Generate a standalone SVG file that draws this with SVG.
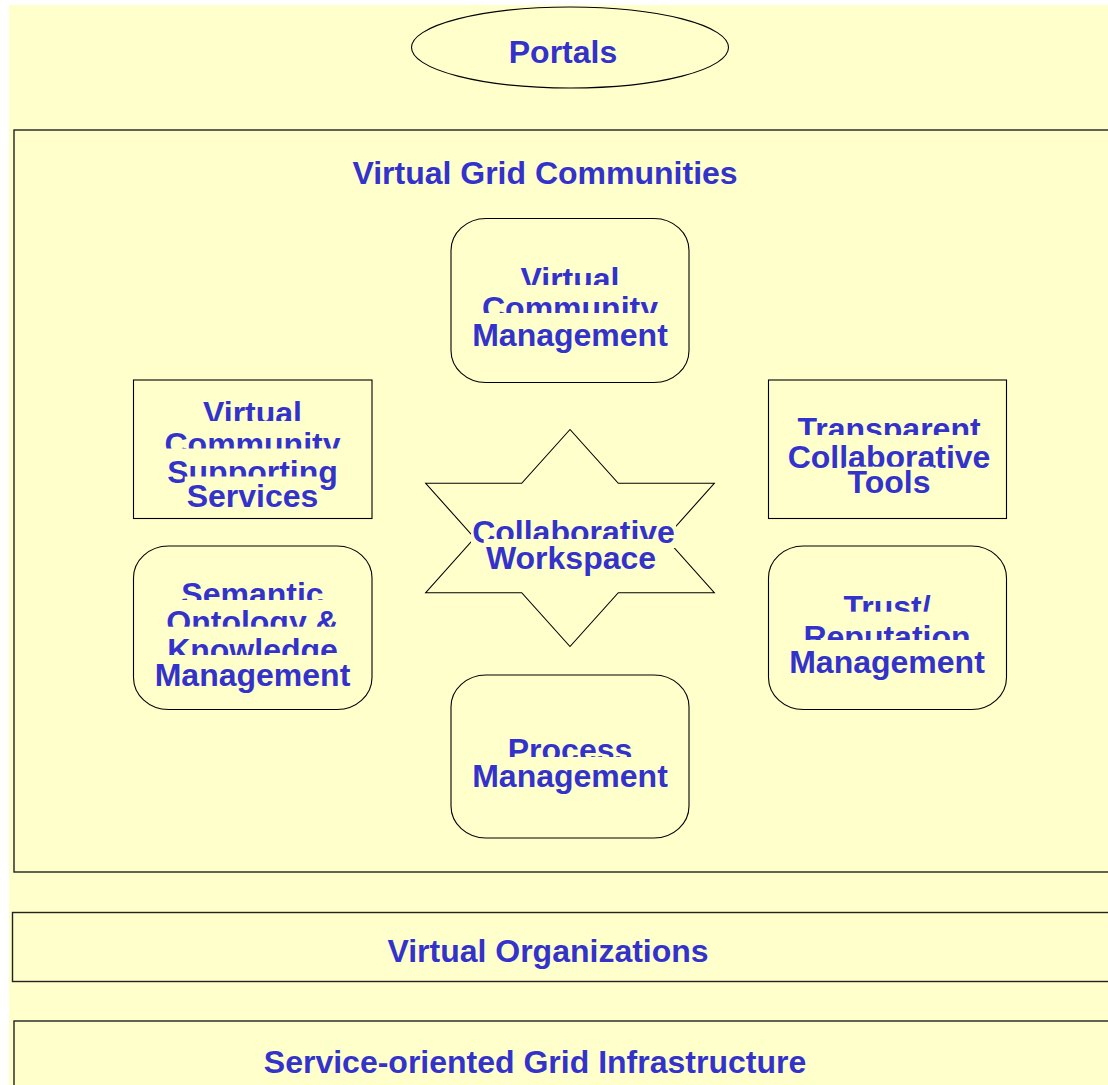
<svg xmlns="http://www.w3.org/2000/svg" width="1108" height="1085" viewBox="0 0 1108 1085">
<style>
.page{fill:#FFFFCC}
.shape{fill:#FFFFCC;stroke:#000000;stroke-width:1.1}
.panel{fill:#FFFFCC;stroke:#222222;stroke-width:1.4}
.lb{fill:#FFFFCC}
.t{font-family:"Liberation Sans",Arial,sans-serif;font-weight:bold;font-size:32px;fill:#3333CC;text-anchor:middle}
</style>
<rect x="0" y="0" width="1108" height="1085" fill="#FFFFFF"/>
<rect class="page" x="9" y="5" width="1099" height="1080"/>

<g id="portals">
<ellipse class="shape" cx="570" cy="47.5" rx="158.5" ry="40.5"/>
<text class="t" x="563" y="63">Portals</text>
</g>

<g id="virtual-grid-communities">
<rect class="panel" x="14" y="130" width="1100" height="742"/>
<text class="t" x="545" y="184">Virtual Grid Communities</text>
</g>

<g id="virtual-community-management">
<rect class="shape" x="451" y="218.5" width="238" height="164" rx="35" ry="32"/>
<rect class="lb" x="518.2" y="259" width="103.6" height="36"/>
<text class="t" x="570" y="290">Virtual</text>
<rect class="lb" x="480" y="285" width="180" height="39"/>
<text class="t" x="570" y="319">Community</text>
<rect class="lb" x="470.2" y="313" width="199.6" height="38"/>
<text class="t" x="570" y="346">Management</text>
</g>

<g id="virtual-community-supporting-services">
<rect class="shape" x="133.5" y="380" width="238.5" height="138.5"/>
<rect class="lb" x="200.7" y="393" width="103.6" height="36"/>
<text class="t" x="252.5" y="424">Virtual</text>
<rect class="lb" x="162.5" y="421" width="180" height="39"/>
<text class="t" x="252.5" y="455">Community</text>
<rect class="lb" x="165.2" y="448.5" width="174.7" height="39.5"/>
<text class="t" x="252.5" y="483">Supporting</text>
<rect class="lb" x="184.7" y="476.5" width="135.6" height="35"/>
<text class="t" x="252.5" y="506.5">Services</text>
</g>

<g id="transparent-collaborative-tools">
<rect class="shape" x="768.5" y="380" width="238" height="138.5"/>
<rect class="lb" x="794.6" y="408.5" width="188.9" height="36"/>
<text class="t" x="889" y="439.5">Transparent</text>
<rect class="lb" x="785.7" y="435" width="206.7" height="38"/>
<text class="t" x="889" y="468">Collaborative</text>
<rect class="lb" x="844.4" y="466.7" width="89.3" height="31.3"/>
<text class="t" x="889" y="493">Tools</text>
</g>

<g id="collaborative-workspace">
<polygon class="shape" points="570,429.5 521.7,483.3 425.7,483.3 474.5,538 425.7,592.7 521.7,592.7 570,646.5 618.3,592.7 714.3,592.7 665.5,538 714.3,483.3 618.3,483.3"/>
<rect class="lb" x="471" y="512" width="205" height="36"/>
<text class="t" x="573.5" y="543">Collaborative</text>
<rect class="lb" x="483.7" y="539" width="174.7" height="34.5"/>
<text class="t" x="571" y="568.5">Workspace</text>
</g>

<g id="semantic-ontology-knowledge-management">
<rect class="shape" x="133.5" y="546" width="238.5" height="163.5" rx="35" ry="32"/>
<rect class="lb" x="179.4" y="573.5" width="146.3" height="36"/>
<text class="t" x="252.5" y="604.5">Semantic</text>
<rect class="lb" x="164.3" y="600" width="176.4" height="38"/>
<text class="t" x="252.5" y="633">Ontology &amp;</text>
<rect class="lb" x="165.2" y="626.7" width="174.7" height="39.3"/>
<text class="t" x="252.5" y="661">Knowledge</text>
<rect class="lb" x="152.7" y="655" width="199.6" height="36"/>
<text class="t" x="252.5" y="686">Management</text>
</g>

<g id="trust-reputation-management">
<rect class="shape" x="768.5" y="546" width="238" height="163.5" rx="35" ry="32"/>
<rect class="lb" x="840.6" y="587" width="92.9" height="36"/>
<text class="t" x="887" y="618">Trust/</text>
<rect class="lb" x="801.5" y="611.7" width="171.1" height="41.3"/>
<text class="t" x="887" y="648">Reputation</text>
<rect class="lb" x="787.2" y="640" width="199.6" height="38"/>
<text class="t" x="887" y="673">Management</text>
</g>

<g id="process-management">
<rect class="shape" x="451" y="675" width="238" height="163" rx="35" ry="32"/>
<rect class="lb" x="505.8" y="730" width="128.5" height="36"/>
<text class="t" x="570" y="761">Process</text>
<rect class="lb" x="470.2" y="757" width="199.6" height="35"/>
<text class="t" x="570" y="787">Management</text>
</g>

<g id="virtual-organizations">
<rect class="panel" x="12.5" y="912.5" width="1100" height="69"/>
<text class="t" x="548" y="962">Virtual Organizations</text>
</g>

<g id="service-oriented-grid-infrastructure">
<rect class="panel" x="14" y="1021" width="1100" height="80"/>
<text class="t" x="535" y="1073">Service-oriented Grid Infrastructure</text>
</g>
</svg>
